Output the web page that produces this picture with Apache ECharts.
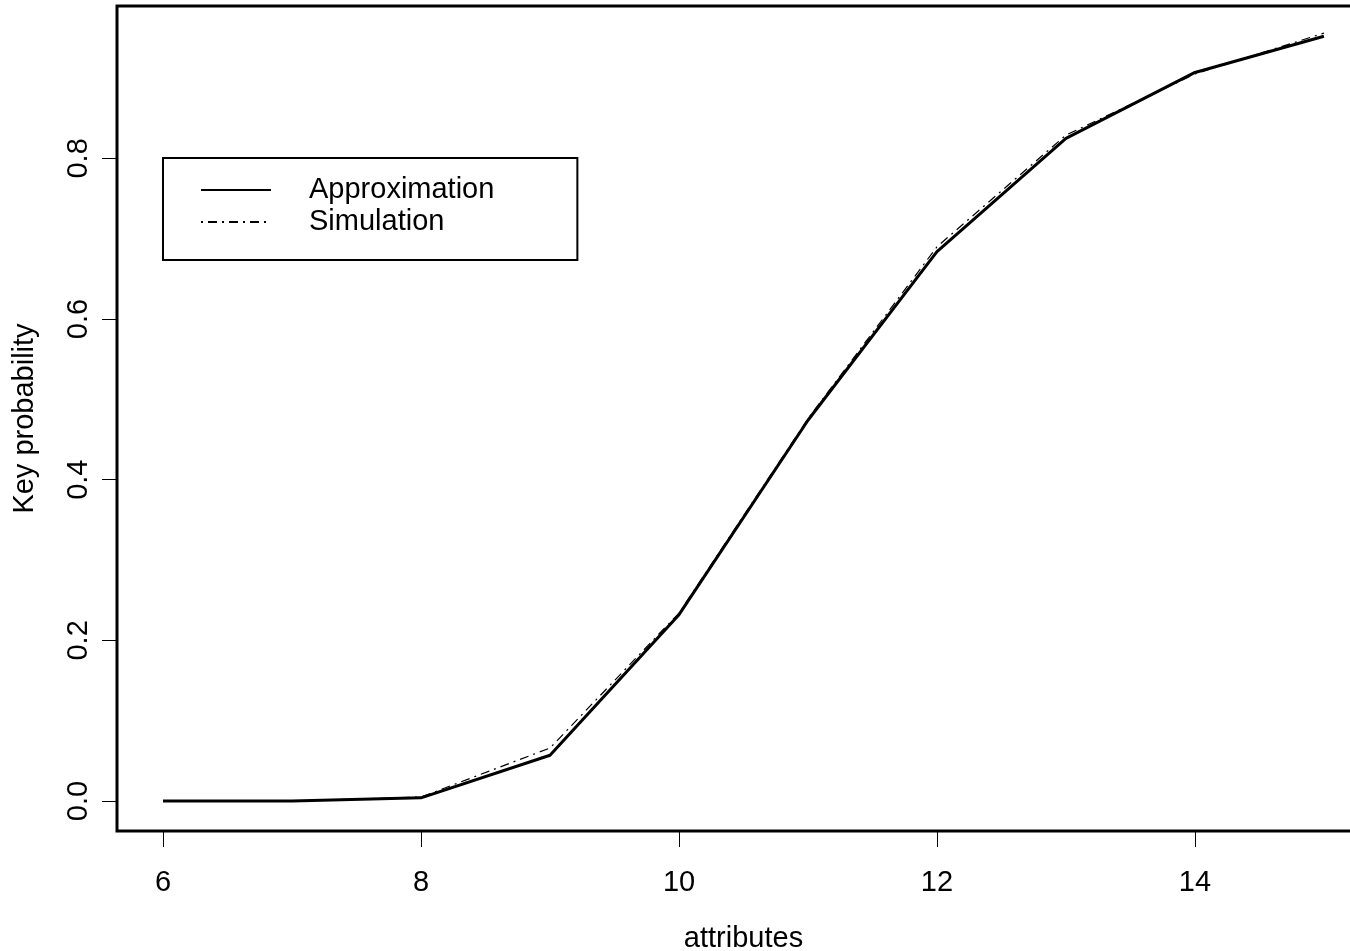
<!DOCTYPE html>
<html>
<head>
<meta charset="utf-8">
<title>Key probability</title>
<script src="https://cdn.jsdelivr.net/npm/echarts@6/dist/echarts.min.js"></script>
<style>
  html, body { margin: 0; padding: 0; background: #fff; }
  #chart { width: 1350px; height: 951px; }
</style>
</head>
<body>
<div id="chart"></div>
<script>
// attributes on the x axis
var attributes = [6, 7, 8, 9, 10, 11, 12, 13, 14, 15];
var approximation = [0, 0, 0.004, 0.057, 0.232, 0.474, 0.684, 0.825, 0.907, 0.952];
var simulation = [0, 0, 0.005, 0.066, 0.234, 0.476, 0.690, 0.829, 0.905, 0.956];
var xTicks = [6, 8, 10, 12, 14];
var yTicks = [0, 0.2, 0.4, 0.6, 0.8];

function pairs(xs, ys) {
  return xs.map(function (x, i) { return [x, ys[i]]; });
}

var font = 'Liberation Sans, Arial, sans-serif';
var myChart = echarts.init(document.getElementById('chart'));
myChart.setOption({
  animation: false,
  backgroundColor: '#fff',
  grid: {
    left: 117,
    top: 6,
    width: 1253,
    height: 825,
    outerBoundsMode: 'none',
    containLabel: false,
    show: true,
    borderWidth: 3,
    borderColor: '#000',
    backgroundColor: 'transparent'
  },
  legend: {
    orient: 'vertical',
    left: 163,
    top: 158,
    padding: [16, 83, 22, 37],
    itemWidth: 70,
    itemHeight: 20,
    itemGap: 0,
    borderColor: '#000',
    borderWidth: 2,
    borderRadius: 0,
    backgroundColor: '#fff',
    itemStyle: { opacity: 0 },
    textStyle: { fontFamily: font, fontSize: 29, lineHeight: 32, color: '#000', padding: [0, 0, 0, 33] },
    data: ['Approximation', 'Simulation']
  },
  xAxis: {
    type: 'value',
    min: 5.643,
    max: 15.357,
    name: 'attributes',
    nameLocation: 'middle',
    nameGap: 93,
    nameTextStyle: { fontFamily: font, fontSize: 29, color: '#000' },
    axisLine: { show: false, onZero: false },
    splitLine: { show: false },
    axisTick: { show: true, length: 16, customValues: xTicks, lineStyle: { color: '#000', width: 1 } },
    axisLabel: { customValues: xTicks, margin: 37, fontFamily: font, fontSize: 29, color: '#000' }
  },
  yAxis: {
    type: 'value',
    min: -0.0373,
    max: 0.9897,
    name: 'Key probability',
    nameLocation: 'middle',
    nameGap: 78,
    nameRotate: 90,
    nameTextStyle: { fontFamily: font, fontSize: 29, color: '#000' },
    axisLine: { show: false, onZero: false },
    splitLine: { show: false },
    axisTick: { show: true, length: 15, customValues: yTicks, lineStyle: { color: '#000', width: 1 } },
    axisLabel: {
      customValues: yTicks,
      rotate: 90,
      margin: 24,
      fontFamily: font,
      fontSize: 29,
      color: '#000',
      formatter: function (v) { return v.toFixed(1); }
    }
  },
  series: [
    {
      name: 'Approximation',
      type: 'line',
      symbol: 'none',
      data: pairs(attributes, approximation),
      lineStyle: { color: '#000', width: 3 },
      itemStyle: { color: '#000' }
    },
    {
      name: 'Simulation',
      type: 'line',
      symbol: 'none',
      data: pairs(attributes, simulation),
      lineStyle: { color: '#000', width: 1.2, type: [2, 5, 9, 5] },
      itemStyle: { color: '#000' }
    }
  ]
});
</script>
</body>
</html>
